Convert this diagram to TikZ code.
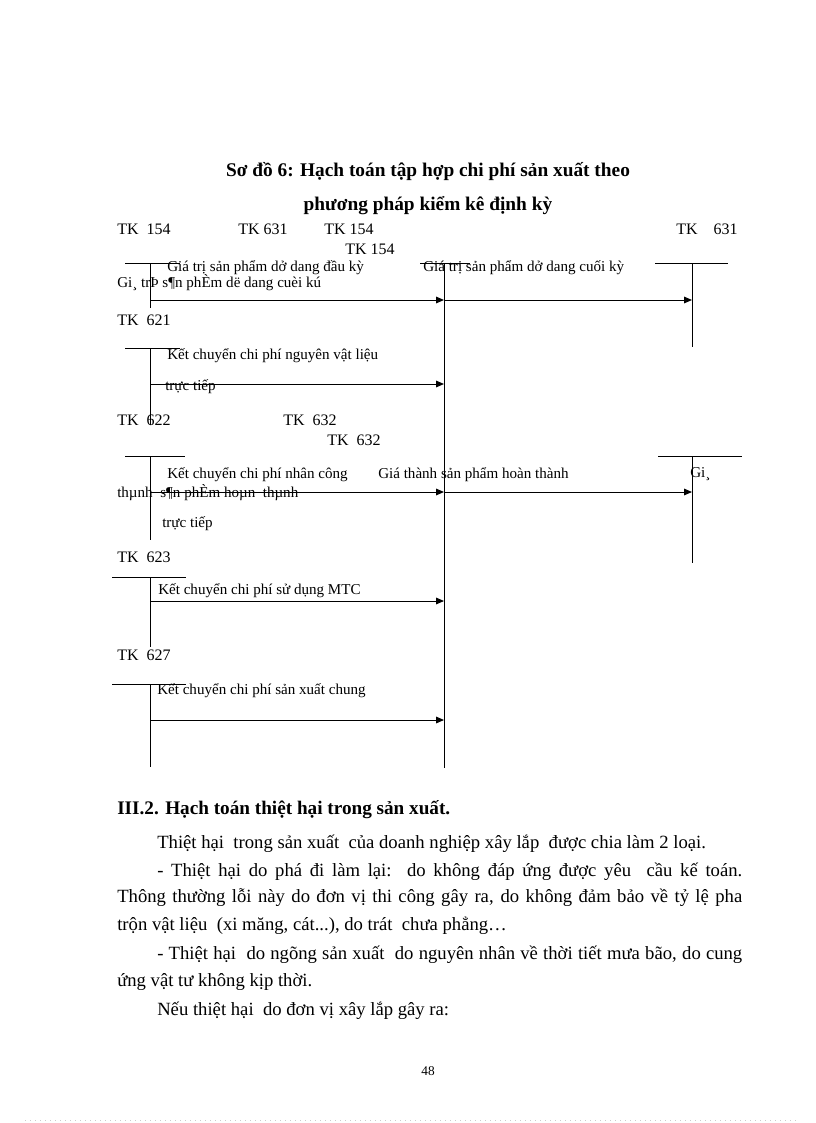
\documentclass[tikz,border=0pt]{standalone}
\usepackage{fontspec}
\setmainfont{Liberation Serif}
\usetikzlibrary{arrows.meta}
\begin{document}
\begin{tikzpicture}[x=0.75pt,y=-0.75pt,
  ln/.style={line width=0.75pt},
  arr/.style={line width=0.75pt,-{Triangle[length=6pt,width=5pt]}},
  tk/.style={font=\fontsize{12}{14}\selectfont, inner sep=0pt, anchor=base west},
  lbl/.style={font=\fontsize{11.3}{13}\selectfont, inner sep=0pt, anchor=base west},
  ttl/.style={font=\fontsize{14.5}{17}\selectfont\bfseries, inner sep=0pt, anchor=base},
  body/.style={font=\fontsize{14}{17}\selectfont, inner sep=0pt, anchor=base west},
  bodyb/.style={font=\fontsize{14.4}{17}\selectfont\bfseries, inner sep=0pt, anchor=base west},
  pg/.style={font=\fontsize{10}{12}\selectfont, inner sep=0pt, anchor=base},
]
\useasboundingbox[fill=white] (0,0) rectangle (816,1123);

% title
\node[ttl] (t1) at (428,177) {Sơ đồ 6: Hạch toán tập hợp chi phí sản xuất theo};
\node[ttl] (t2) at (428,211) {phương pháp kiểm kê định kỳ};

% account labels
\node[tk] (k154a) at (117,234) {TK\ \ 154};
\node[tk] (k631a) at (238,234) {TK 631};
\node[tk] (k154b) at (324,234) {TK 154};
\node[tk] (k631b) at (676,234) {TK\ \ \ \ 631};
\node[tk] (k154c) at (345,254) {TK 154};
\node[tk] (k621) at (117,325) {TK\ \ 621};
\node[tk] (k622) at (117,425) {TK\ \ 622};
\node[tk] (k632a) at (283,425) {TK\ \ 632};
\node[tk] (k632b) at (327,445) {TK\ \ 632};
\node[tk] (k623) at (117,562) {TK\ \ 623};
\node[tk] (k627) at (117,660) {TK\ \ 627};

% T-account coordinates
\coordinate (h1a) at (125,263); \coordinate (h1b) at (180,263);
\coordinate (v1a) at (150,263); \coordinate (v1b) at (150,308);
\coordinate (hca) at (420,263); \coordinate (hcb) at (470,263);
\coordinate (vca) at (444,263); \coordinate (vcb) at (444,768);
\coordinate (hra) at (655,263); \coordinate (hrb) at (728,263);
\coordinate (vra) at (692,263); \coordinate (vrb) at (692,347);
\coordinate (h2a) at (125,348); \coordinate (h2b) at (180,348);
\coordinate (v2a) at (150,348); \coordinate (v2b) at (150,425);
\coordinate (h3a) at (125,456); \coordinate (h3b) at (185,456);
\coordinate (v3a) at (150,456); \coordinate (v3b) at (150,540);
\coordinate (hsa) at (658,456); \coordinate (hsb) at (742,456);
\coordinate (vsa) at (692,456); \coordinate (vsb) at (692,563);
\coordinate (h4a) at (112,577); \coordinate (h4b) at (186,577);
\coordinate (v4a) at (150,577); \coordinate (v4b) at (150,647);
\coordinate (h5a) at (112,684); \coordinate (h5b) at (186,684);
\coordinate (v5a) at (150,684); \coordinate (v5b) at (150,767);

\foreach \p in {1,c,r,2,3,s,4,5}{
  \draw[ln] (h\p a) -- (h\p b);
  \draw[ln] (v\p a) -- (v\p b);
}

% arrow endpoints
\coordinate (a1s) at (150,300); \coordinate (a1e) at (444,300);
\coordinate (a2e) at (692,300);
\coordinate (a3s) at (150,384); \coordinate (a3e) at (444,384);
\coordinate (a4s) at (150,492); \coordinate (a4e) at (444,492);
\coordinate (a5e) at (692,492);
\coordinate (a6s) at (150,601); \coordinate (a6e) at (444,601);
\coordinate (a7s) at (150,720); \coordinate (a7e) at (444,720);

\draw[arr] (a1s) -- (a1e);
\draw[arr] (a1e) -- (a2e);
\draw[arr] (a3s) -- (a3e);
\draw[arr] (a4s) -- (a4e);
\draw[arr] (a4e) -- (a5e);
\draw[arr] (a6s) -- (a6e);
\draw[arr] (a7s) -- (a7e);

% labels
\node[lbl] (l1) at (167,272) {Giá trị sản phẩm dở dang đầu kỳ};
\node[lbl] (l2) at (117,287) {Gi¸ trÞ s¶n phÈm dë dang cuèi kú};
\node[lbl] (l3) at (423,272) {Giá trị sản phẩm dở dang cuối kỳ};
\node[lbl] (l4) at (167,359) {Kết chuyển chi phí nguyên vật liệu};
\node[lbl] (l5) at (165,390) {trực tiếp};
\node[lbl] (l6) at (167,478) {Kết chuyển chi phí nhân công};
\node[lbl] (l7) at (378,478) {Giá thành sản phẩm hoàn thành};
\node[lbl] (l8) at (690,477) {Gi¸};
\node[lbl] (l9) at (117,497) {thµnh\ \ s¶n phÈm hoµn\ \ thµnh};
\node[lbl] (l10) at (162,527) {trực tiếp};
\node[lbl] (l11) at (158,594) {Kết chuyển chi phí\ sử dụng\ MTC};
\node[lbl] (l12) at (157,694) {Kết chuyển chi phí\ sản xuất chung};

% body text
\node[bodyb] (b1) at (117,814) {III.2. Hạch toán thiệt hại trong sản xuất.};
\node[body] (b2) at (157,848) {Thiệt hại\ \ trong sản xuất\ \ của doanh nghiệp xây lắp\ \ được chia làm 2 loại.};
\node[body] (b3) at (157,876) {\makebox[438.75pt][s]{- Thiệt hại do phá đi làm lại:\ \ do không đáp ứng được yêu\ \ cầu kế toán.}};
\node[body] (b4) at (117,902) {\makebox[468.75pt][s]{Thông thường lỗi này do đơn vị thi công gây ra, do không đảm bảo về tỷ lệ pha}};
\node[body] (b5) at (117,930) {trộn vật liệu\ \ (xi măng, cát...), do trát\ \ chưa phẳng…};
\node[body] (b6) at (157,959) {\makebox[438.75pt][s]{- Thiệt hại\ \ do ngõng sản xuất\ \ do nguyên nhân về thời tiết mưa bão, do cung}};
\node[body] (b7) at (117,986) {ứng vật tư không kịp thời.};
\node[body] (b8) at (157,1015) {Nếu thiệt hại\ \ do đơn vị xây lắp gây ra:};
\node[pg] (pn) at (428,1075) {48};

% page edge dotted line
\coordinate (d1) at (25,1120); \coordinate (d2) at (800,1120);
\draw[gray!40, line width=0.75pt, dash pattern=on 0.75pt off 3pt] (d1) -- (d2);
\end{tikzpicture}
\end{document}
